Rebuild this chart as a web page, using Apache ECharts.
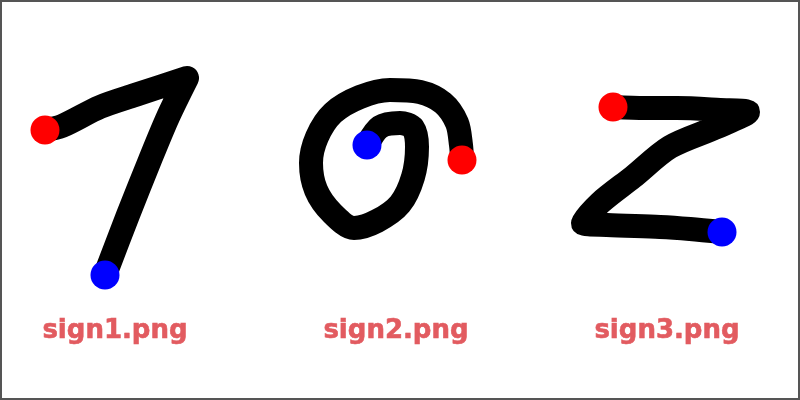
<!doctype html>
<html>
<head>
<meta charset="UTF-8">
<title>sign strokes</title>
<script src="https://cdn.jsdelivr.net/npm/echarts@6/dist/echarts.min.js"></script>
<style>
  html, body { margin: 0; padding: 0; background: #fff; }
  #main { width: 800px; height: 400px; }
</style>
</head>
<body>
<div id="main"></div>
<script type="text/javascript">
// 三个手写笔画 (x, y 像素坐标, y 向下)
var sign1 = [[45,130],[62,126],[100,107],[135,95],[187,78],[168,117],[150,160],[128,215],[105,275]];
var sign2 = [[462,160],[461,145],[457,123],[443,103],[420,92],[390,90],[360,97],[333,113],[317,137],[311,163],[316,190],[332,213],[354,228],[377,221],[400,204],[413,177],[417,147],[413,128],[400,123],[380,127],[367,145]];
var sign3 = [[613,107],[645,108],[677,108],[720,110],[748,112],[717,127],[670,147],[633,177],[600,203],[583,223],[607,225],[660,227],[690,229],[722,232]];
// 起点 (红) / 终点 (蓝)
var startPts = [[45,130],[462,160],[613,107]];
var endPts = [[105,275],[367,145],[722,232]];
// 文件名标签
var labelNames = ['sign1.png', 'sign2.png', 'sign3.png'];
var labelPos = [[115,331],[396,331],[667,331]];

var myChart = echarts.init(document.getElementById('main'));

function stroke(name, data) {
    return {
        name: name,
        type: 'line',
        data: data,
        smooth: 0.3,
        showSymbol: false,
        silent: true,
        lineStyle: { color: '#000', width: 24, cap: 'round', join: 'round' },
        z: 2
    };
}

var option = {
    backgroundColor: '#fff',
    animation: false,
    grid: { left: 0, right: 0, top: 0, bottom: 0 },
    xAxis: { type: 'value', min: 0, max: 800, show: false },
    yAxis: { type: 'value', min: 0, max: 400, inverse: true, show: false },
    graphic: [{
        type: 'rect',
        shape: { x: 1, y: 1, width: 798, height: 398 },
        style: { fill: 'none', stroke: '#555', lineWidth: 2 },
        z: 100
    }],
    series: [
        stroke('sign1', sign1),
        stroke('sign2', sign2),
        stroke('sign3', sign3),
        {
            name: 'start',
            type: 'scatter',
            data: startPts,
            symbolSize: 29,
            itemStyle: { color: '#ff0000', opacity: 1 },
            z: 5
        },
        {
            name: 'end',
            type: 'scatter',
            data: endPts,
            symbolSize: 29,
            itemStyle: { color: '#0000ff', opacity: 1 },
            z: 5
        },
        {
            name: 'labels',
            type: 'scatter',
            symbolSize: 0,
            itemStyle: { opacity: 1 },
            data: labelPos.map(function (p, i) { return { value: p, name: labelNames[i] }; }),
            label: {
                show: true,
                position: 'inside',
                formatter: '{b}',
                color: '#e25b60',
                fontSize: 26,
                fontWeight: 'bold',
                fontFamily: 'DejaVu Sans',
                textBorderColor: '#e25b60',
                textBorderWidth: 0.6
            },
            z: 5
        }
    ]
};
myChart.setOption(option);
</script>
</body>
</html>
